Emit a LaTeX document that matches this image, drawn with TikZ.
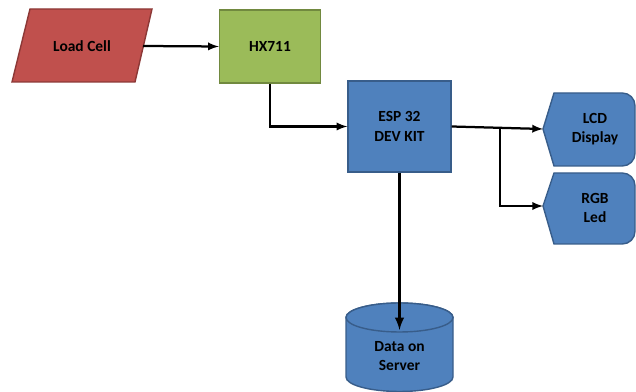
\documentclass[tikz,border=0pt]{standalone}
\usepackage{fontspec}
\setmainfont{Carlito}
\usetikzlibrary{calc}
\definecolor{redfill}{HTML}{C0504D}
\definecolor{redline}{HTML}{8C3836}
\definecolor{greenfill}{HTML}{9BBB59}
\definecolor{greenline}{HTML}{71893F}
\definecolor{bluefill}{HTML}{4F81BD}
\definecolor{blueline}{HTML}{385D8A}
\tikzset{
	lbl/.style={font=\fontsize{11}{13}\selectfont\bfseries, align=center, inner sep=0pt},
	conn/.style={line width=1.6pt, -latex},
}

\begin{document}
\begin{tikzpicture}[x=0.025cm, y=0.025cm]
			%%%%% START %%%%%
			\useasboundingbox (0, 0) rectangle (636, 392);
			
			% load cell
			\draw[fill=redfill, draw=redline, line width=1pt] (30, 383) -- (152, 383) -- (135, 310) -- (12, 310) -- cycle;
			\node[lbl] (load) at (82, 346) {Load Cell};
			\coordinate (loadR) at (143, 346);
			
			% hx711 and esp32
			\node[lbl, draw=greenline, fill=greenfill, line width=1pt, minimum width=2.525cm, minimum height=1.825cm] (hx) at (270, 345.5) {HX711};
			\node[lbl, draw=blueline, fill=bluefill, line width=1pt, minimum width=2.575cm, minimum height=2.275cm] (esp) at (399.5, 265.5) {ESP 32\\[1pt]DEV KIT};
			
			% outputs
			\draw[fill=bluefill, draw=blueline, line width=1pt] (543, 263) -- (554, 299) [rounded corners=9pt] -- (635, 299) -- (635, 226) [sharp corners] -- (554, 226) -- cycle;
			\node[lbl] (lcd) at (595, 263) {LCD\\[1pt]Display};
			\coordinate (lcdL) at (543, 263);
			
			\draw[fill=bluefill, draw=blueline, line width=1pt] (543, 186) -- (554, 219) [rounded corners=9pt] -- (635, 219) -- (635, 148) [sharp corners] -- (554, 148) -- cycle;
			\node[lbl] (rgb) at (595, 184) {RGB\\[1pt]Led};
			\coordinate (rgbL) at (543, 186);
			
			% server
			\draw[fill=bluefill, draw=blueline, line width=1pt] (346, 74.5) -- (346, 15) arc (180:360:53.5 and 14.5) -- (453, 74.5) arc (0:180:53.5 and 14.5) -- cycle;
			\draw[fill=bluefill, draw=blueline, line width=1pt] (399.5, 74.5) ellipse (53.5 and 14.5);
			\node[lbl] (server) at (399.5, 36) {Data on\\[1pt]Server};
			\coordinate (serverT) at (399.5, 62);
			
			% connections
			\draw[conn] (loadR) -- (hx.west);
			\draw[conn] (hx.south) |- (esp.west);
			\draw[conn] (esp.east) -- (lcdL);
			\coordinate (split) at (500, 265);
			\draw[conn] (split) |- (rgbL);
			\draw[line width=2pt, -latex] (esp.south) -- (serverT);
			
			%%%%% END %%%%%
\end{tikzpicture}
\end{document}
